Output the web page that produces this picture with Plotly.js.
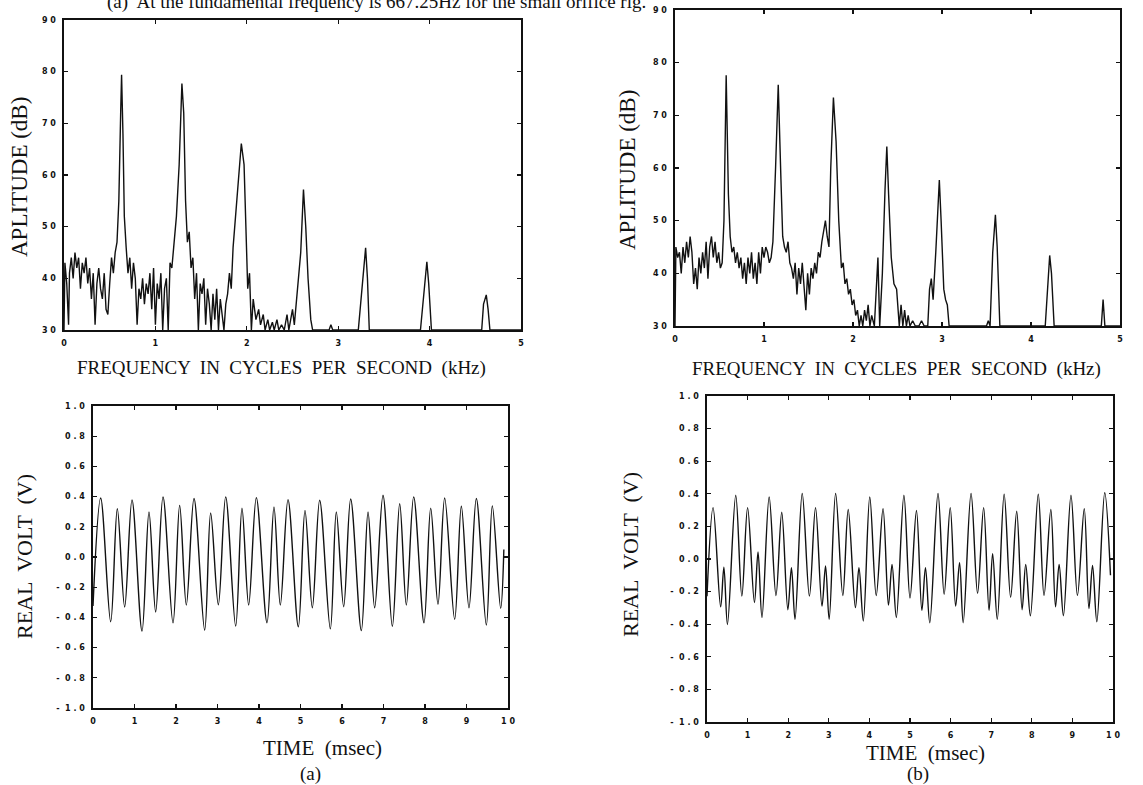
<!DOCTYPE html>
<html>
<head>
<meta charset="utf-8">
<script src="https://cdn.plot.ly/plotly-3.0.1.min.js"></script>
<style>html,body{margin:0;padding:0;background:#fff;}#chart{width:1143px;height:785px;}</style>
</head>
<body>
<div id="chart"></div>
<script>
// ---------- Spectrum (a): frequency in kHz, amplitude in dB ----------
var specA_f = [0.00,0.01,0.03,0.05,0.06,0.08,0.10,0.12,0.14,0.16,0.18,0.20,0.22,0.24,0.26,0.28,0.30,0.32,0.34,0.36,0.38,0.40,0.42,0.44,0.46,0.48,0.50,0.52,0.54,0.56,0.58,0.60,0.62,0.63,0.645,0.66,0.68,0.70,0.72,0.74,0.76,0.78,0.80,0.82,0.84,0.86,0.88,0.90,0.92,0.94,0.96,0.98,1.00,1.02,1.04,1.06,1.08,1.10,1.12,1.14,1.16,1.18,1.20,1.23,1.26,1.29,1.31,1.33,1.35,1.37,1.39,1.41,1.43,1.45,1.47,1.49,1.51,1.53,1.55,1.57,1.59,1.61,1.63,1.65,1.67,1.69,1.71,1.73,1.75,1.77,1.79,1.81,1.83,1.85,1.88,1.91,1.94,1.97,1.99,2.01,2.03,2.05,2.07,2.10,2.13,2.15,2.18,2.20,2.23,2.25,2.28,2.30,2.33,2.35,2.38,2.41,2.44,2.46,2.48,2.50,2.52,2.54,2.56,2.59,2.62,2.645,2.67,2.70,2.72,2.90,2.92,2.94,3.22,3.26,3.30,3.32,3.34,3.90,3.94,3.97,3.99,4.02,4.57,4.59,4.62,4.64,4.66,5.00];
var specA_db = [30,43,39,31,41,44,40,45,42,44,38,43,41,44,39,42,36,41,31,39,42,38,36,41,34,33,39,44,41,45,47,55,72,79.4,68,52,46,41,44,38,43,40,31,38,36,40,35,39,37,41,34,42,31,39,36,41,30,38,40,30,43,42,46,52,62,77.7,72,55,47,49,42,44,36,41,30,39,37,40,31,38,35,30,37,32,38,30,36,33,30,35,37,41,38,46,53,60,66.1,62,50,38,41,30,36,32,34,31,33,30,32,30,31.5,30,32,30,31,30,33,30,32,34,31,35,38,45,57.2,50,40,32,30,30,31,30,30,38,45.9,40,30,30,37,43.2,39,30,30,35,36.8,34,30,30];

// ---------- Spectrum (b) ----------
var specB_f = [0.00,0.01,0.03,0.05,0.07,0.09,0.11,0.13,0.15,0.17,0.19,0.21,0.23,0.25,0.27,0.29,0.31,0.33,0.35,0.37,0.39,0.41,0.43,0.45,0.47,0.49,0.51,0.53,0.55,0.575,0.60,0.62,0.64,0.66,0.68,0.70,0.72,0.74,0.76,0.78,0.80,0.82,0.84,0.86,0.88,0.90,0.92,0.94,0.96,0.98,1.00,1.02,1.04,1.06,1.08,1.10,1.13,1.16,1.19,1.21,1.23,1.25,1.27,1.29,1.31,1.33,1.35,1.37,1.39,1.41,1.43,1.45,1.47,1.49,1.51,1.53,1.55,1.57,1.59,1.61,1.63,1.65,1.67,1.69,1.71,1.73,1.75,1.78,1.81,1.84,1.87,1.89,1.91,1.93,1.95,1.97,1.99,2.01,2.03,2.05,2.07,2.09,2.11,2.13,2.15,2.17,2.19,2.21,2.24,2.26,2.28,2.30,2.33,2.36,2.38,2.40,2.43,2.46,2.49,2.52,2.54,2.56,2.58,2.60,2.62,2.64,2.67,2.70,2.74,2.77,2.80,2.84,2.86,2.88,2.90,2.93,2.97,2.99,3.02,3.04,3.06,3.08,3.50,3.52,3.54,3.57,3.60,3.62,3.65,4.16,4.19,4.21,4.23,4.26,4.79,4.81,4.83,5.00];
var specB_db = [30,45,43,44,40,45,42,46,43,47,44,38,41,37,43,40,44,41,46,39,45,47,43,46,42,44,41,42,50,77.6,55,47,44,45,42,44,41,43,39,42,38,43,40,44,39,42,38,44,40,45,43,45,44,42,43,46,60,75.8,58,47,45,44,46,42,41,39,42,36,41,38,42,37,33,40,36,41,39,42,40,44,43,46,48,50,47,45,60,73.4,65,50,41,42,38,39,36,37,34,35,32,33,30,32,30,33,31,34,30,32,30,37,43,30,40,56,64.1,55,43,38,37,30,34,30,33,30,32,30,31,30,30,31,30,30,37,39,35,44,57.7,50,37,35,34,30,30,31,30,44,51.1,45,30,30,38,43.4,40,30,30,35,30,30];

// ---------- Time signal (a): extrema, time in msec, volts ----------
var sigA_t = [0,0.185,0.426,0.586,0.763,0.94,1.181,1.349,1.51,1.687,1.928,2.088,2.249,2.434,2.691,2.835,3.02,3.197,3.438,3.59,3.751,3.936,4.193,4.361,4.514,4.699,4.948,5.108,5.285,5.462,5.719,5.863,6.04,6.209,6.466,6.627,6.787,6.988,7.213,7.39,7.55,7.727,7.976,8.137,8.313,8.474,8.715,8.876,9.06,9.237,9.478,9.622,9.823,9.9];
var sigA_v = [-0.324,0.391,-0.429,0.32,-0.331,0.378,-0.491,0.298,-0.364,0.398,-0.436,0.342,-0.318,0.387,-0.484,0.291,-0.316,0.398,-0.458,0.324,-0.318,0.393,-0.436,0.331,-0.318,0.38,-0.462,0.309,-0.336,0.376,-0.476,0.298,-0.329,0.384,-0.487,0.298,-0.336,0.409,-0.458,0.353,-0.318,0.398,-0.436,0.324,-0.313,0.391,-0.413,0.336,-0.336,0.387,-0.451,0.338,-0.34,0.05];

// ---------- Time signal (b) ----------
var sigB_t = [0,0.150,0.336,0.416,0.504,0.708,0.858,1.0,1.168,1.257,1.354,1.531,1.699,1.841,1.991,2.080,2.168,2.345,2.522,2.673,2.832,2.920,3.009,3.168,3.345,3.478,3.655,3.743,3.850,4.009,4.168,4.336,4.469,4.558,4.664,4.850,5.0,5.159,5.292,5.381,5.487,5.690,5.841,5.991,6.124,6.221,6.310,6.504,6.664,6.814,6.947,7.035,7.150,7.319,7.478,7.628,7.761,7.850,7.965,8.159,8.301,8.469,8.584,8.673,8.779,8.965,9.124,9.292,9.407,9.496,9.602,9.796,9.938];
var sigB_v = [-0.228,0.315,-0.293,-0.05,-0.402,0.391,-0.228,0.315,-0.267,0.043,-0.359,0.380,-0.224,0.287,-0.311,-0.054,-0.37,0.402,-0.228,0.315,-0.289,-0.043,-0.37,0.402,-0.224,0.304,-0.298,-0.054,-0.38,0.38,-0.224,0.309,-0.283,-0.033,-0.359,0.391,-0.239,0.298,-0.315,-0.054,-0.391,0.402,-0.217,0.315,-0.289,-0.022,-0.391,0.402,-0.211,0.315,-0.315,0.033,-0.37,0.398,-0.235,0.293,-0.311,-0.033,-0.348,0.398,-0.224,0.304,-0.293,-0.033,-0.348,0.391,-0.224,0.309,-0.304,-0.039,-0.385,0.406,-0.1];

// ---------- Tick labels ----------
var S = '\u00a0';
var freqTicks = [0,1,2,3,4,5];
var freqTickText = ['0','1','2','3','4','5'];
var dbTicks = [30,40,50,60,70,80,90];
var dbTickText = ['3'+S+'0','4'+S+'0','5'+S+'0','6'+S+'0','7'+S+'0','8'+S+'0','9'+S+'0'];
var timeTicks = [0,1,2,3,4,5,6,7,8,9,10];
var timeTickText = ['0','1','2','3','4','5','6','7','8','9','1'+S+'0'];
var voltTicks = [-1,-0.8,-0.6,-0.4,-0.2,0,0.2,0.4,0.6,0.8,1];
var voltTickText = ['-'+S+S+'1'+S+'.'+S+'0','-'+S+S+'0'+S+'.'+S+'8','-'+S+S+'0'+S+'.'+S+'6','-'+S+S+'0'+S+'.'+S+'4','-'+S+S+'0'+S+'.'+S+'2','0'+S+'.'+S+'0','0'+S+'.'+S+'2','0'+S+'.'+S+'4','0'+S+'.'+S+'6','0'+S+'.'+S+'8','1'+S+'.'+S+'0'];

var W = 1143, H = 785;
function dx(a, b){ return [a / W, b / W]; }
function dy(top, bottom){ return [1 - bottom / H, 1 - top / H]; }
var tickFont = {family: 'DejaVu Sans', size: 8, color: '#111', weight: 'bold'};
function ax(domain, range, tv, tt, anchor){
  return {domain: domain, range: range, anchor: anchor, tickmode: 'array', tickvals: tv, ticktext: tt,
    ticks: 'inside', ticklen: 4, tickwidth: 1.3, tickcolor: '#111', mirror: 'ticks',
    showline: true, linecolor: '#111', linewidth: 1.6, showgrid: false, zeroline: false,
    tickfont: tickFont, ticklabelstandoff: 5, fixedrange: true};
}
var lineStyle = {color: '#111', width: 1.4};

var traces = [
  {x: specA_f, y: specA_db, xaxis: 'x', yaxis: 'y', mode: 'lines', line: lineStyle, hoverinfo: 'skip'},
  {x: specB_f, y: specB_db, xaxis: 'x2', yaxis: 'y2', mode: 'lines', line: lineStyle, hoverinfo: 'skip'},
  {x: sigA_t, y: sigA_v, xaxis: 'x3', yaxis: 'y3', mode: 'lines', line: {color: '#111', width: 1.4, shape: 'spline', smoothing: 1}, hoverinfo: 'skip'},
  {x: sigB_t, y: sigB_v, xaxis: 'x4', yaxis: 'y4', mode: 'lines', line: {color: '#111', width: 1.4, shape: 'spline', smoothing: 1}, hoverinfo: 'skip'}
];

var serif = 'Liberation Serif, Times New Roman, serif';
function note(text, px, py, size, angle, anchor){
  return {text: text, xref: 'paper', yref: 'paper', x: px / W, y: 1 - py / H, showarrow: false,
    xanchor: anchor || 'center', yanchor: 'middle', textangle: angle || 0,
    font: {family: serif, size: size, color: '#111'}};
}

var layout = {
  width: W, height: H, autosize: false, showlegend: false,
  margin: {l: 0, r: 0, t: 0, b: 0},
  paper_bgcolor: '#fff', plot_bgcolor: '#fff',
  xaxis: ax(dx(64, 521), [0, 5], freqTicks, freqTickText, 'y'),
  yaxis: ax(dy(20, 330), [30, 90], dbTicks, dbTickText, 'x'),
  xaxis2: ax(dx(675, 1120), [0, 5], freqTicks, freqTickText, 'y2'),
  yaxis2: ax(dy(10, 326), [30, 90], dbTicks, dbTickText, 'x2'),
  xaxis3: ax(dx(93, 508), [0, 10], timeTicks, timeTickText, 'y3'),
  yaxis3: ax(dy(406, 708), [-1, 1], voltTicks, voltTickText, 'x3'),
  xaxis4: ax(dx(707, 1113), [0, 10], timeTicks, timeTickText, 'y4'),
  yaxis4: ax(dy(396, 722), [-1, 1], voltTicks, voltTickText, 'x4'),
  annotations: [
    note('(a)  At the fundamental frequency is 667.25Hz for the small orifice rig.', 105, 2, 19, 0, 'left'),
    note('APLITUDE (dB)', 20, 177, 23, -90),
    note('APLITUDE (dB)', 628, 170, 23, -90),
    note('FREQUENCY  IN  CYCLES  PER  SECOND  (kHz)', 281, 368, 19),
    note('FREQUENCY  IN  CYCLES  PER  SECOND  (kHz)', 896, 369, 19),
    note('REAL  VOLT  (V)', 24, 557, 22, -90),
    note('REAL  VOLT  (V)', 630, 555, 22, -90),
    note('TIME  (msec)', 322, 748, 21),
    note('(a)', 311, 774, 19),
    note('TIME  (msec)', 925, 753, 21),
    note('(b)', 918, 774, 19)
  ]
};

Plotly.newPlot('chart', traces, layout, {staticPlot: true, displayModeBar: false});
</script>
</body>
</html>
